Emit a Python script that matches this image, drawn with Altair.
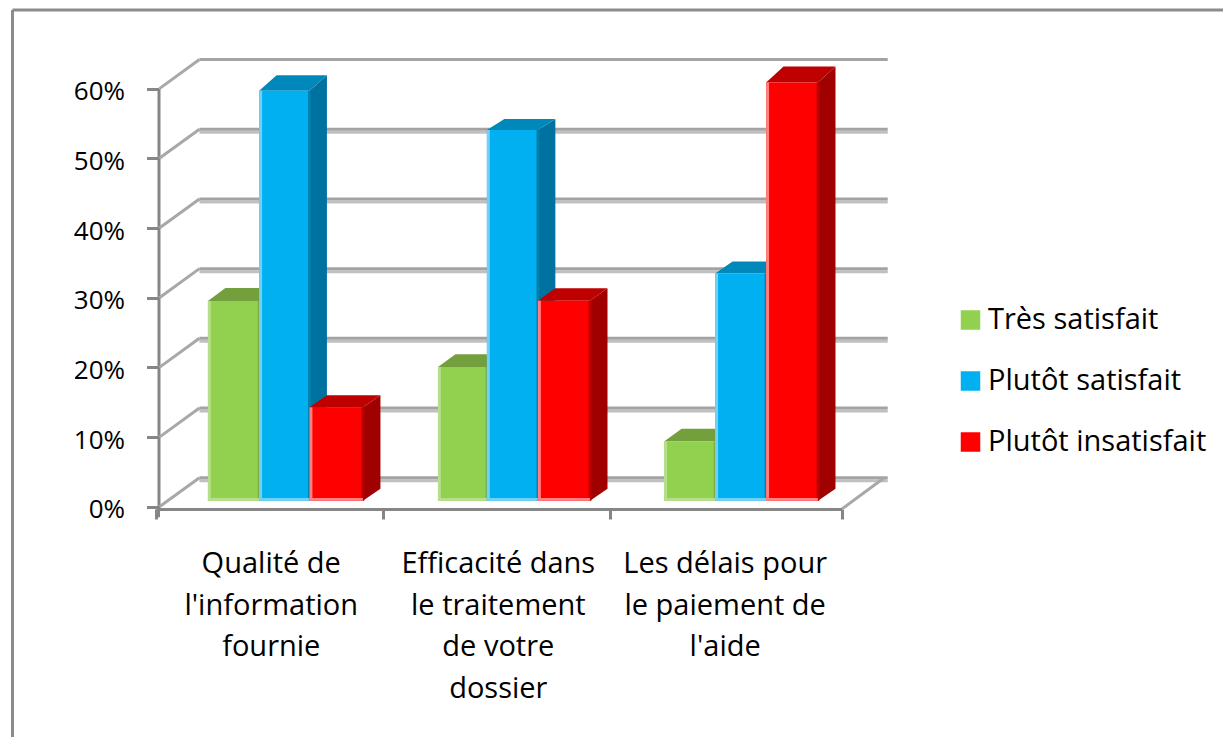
import altair as alt
import pandas as pd

CATEGORIES = ["Qualité de\nl'information\nfournie",
              "Efficacité dans\nle traitement\nde votre\ndossier",
              "Les délais pour\nle paiement de\nl'aide"]
LABEL_CENTERS = [0.504, 1.497, 2.489]
SERIES = ["Très satisfait", "Plutôt satisfait", "Plutôt insatisfait"]
VALUES = [[28.65, 19.2, 8.5], [58.8, 53.2, 32.6], [13.4, 28.7, 60.0]]
TOP_DEPTH = [[1.87, 1.82, 1.82], [2.25, 1.58, 1.72], [1.72, 1.79, 2.30]]
EDGES = [[0.227, 0.451, 0.671, 0.905],
         [1.233, 1.447, 1.670, 1.898],
         [2.222, 2.445, 2.668, 2.895]]
FRONT = ["#92D050", "#00B0F0", "#FF0000"]
LIGHT = ["#B7DF8A", "#73D0F5", "#FF8080"]
TOP = ["#739F3D", "#0088BA", "#BE0000"]
SIDE = ["#6E9A3A", "#00729F", "#A00000"]
STRIP = ["#7FB045", "#0080AD", "#B80000"]
TICKS = [0, 10, 20, 30, 40, 50, 60]
X_TICKS = [0, 0.992, 1.985, 3]

W, H = 1215, 729
FONT = "Open Sans"
FS_AXIS = 26
FS = 29
BAR_LIFT = 0.875
BASE_DEPTH = 1.72
DX = 0.0765
BACK_X0, BACK_X1, BACK_LIFT = 0.19, 3.2, 4.17

AX = "#868686"
xs = alt.Scale(domain=[0, 3], range=[148, 834], nice=False, zero=False)
ys = alt.Scale(domain=[0, 60], range=[498.8, 80.6], nice=False, zero=False)
x_axis = alt.Axis(values=X_TICKS, labels=False, grid=False, offset=-(H - 501),
                  domainColor=AX, domainWidth=3, tickColor=AX, tickWidth=3, tickSize=10)
y_axis = alt.Axis(values=TICKS, grid=False, offset=-150.5, labelExpr="datum.value + '%'",
                  domainColor=AX, domainWidth=3, tickColor=AX, tickWidth=3, tickSize=12,
                  labelFont=FONT, labelFontSize=FS_AXIS, labelColor="#000000", labelPadding=22,
                  labelOffset=3)


def X(f="x"):
    return alt.X(f"{f}:Q", scale=xs, title=None, axis=x_axis)


def Y(f="y"):
    return alt.Y(f"{f}:Q", scale=ys, title=None, axis=y_axis)


layers = []

# back wall gridlines
dark = pd.DataFrame([{"x": x, "y": v + BACK_LIFT, "g": v} for v in TICKS for x in (BACK_X0, BACK_X1)])
light = pd.DataFrame([{"x": x, "y": v + BACK_LIFT - 0.43, "g": v} for v in TICKS[:-1] for x in (BACK_X0, BACK_X1)])
layers.append(alt.Chart(light).mark_line(color="#C0C0C0", strokeWidth=3)
              .encode(x=X(), y=Y(), detail="g:N"))
layers.append(alt.Chart(dark).mark_line(color="#A3A3A3", strokeWidth=3)
              .encode(x=X(), y=Y(), detail="g:N"))

# side wall diagonals and floor
diag = []
for v in TICKS:
    diag += [{"x": 0.015, "y": v, "g": v}, {"x": BACK_X0, "y": v + BACK_LIFT, "g": v}]
diag += [{"x": 3.0, "y": -0.3, "g": "floor"}, {"x": BACK_X1 - 0.015, "y": BACK_LIFT, "g": "floor"}]
layers.append(alt.Chart(pd.DataFrame(diag)).mark_line(color="#A8A8A8", strokeWidth=3)
              .encode(x=X(), y=Y(), detail="g:N"))

# y axis line running down to the x axis
layers.append(alt.Chart(pd.DataFrame({"a": [0.0], "b": [-1.5]})).mark_rule(color=AX, strokeWidth=3)
              .encode(x=alt.value(150.5), y=Y("a"), y2="b:Q"))

legend = alt.Legend(title=None, orient="none", legendX=948, legendY=297,
                    symbolType="square", symbolSize=380, symbolStrokeWidth=0, symbolOpacity=1,
                    labelFont=FONT, labelFontSize=FS, labelColor="#000000", labelOffset=3,
                    clipHeight=30, rowPadding=31, labelLimit=300)
color = alt.Color("s:N", scale=alt.Scale(domain=SERIES, range=FRONT), legend=legend,
                  sort=SERIES)

# bars: side, top and front of every bar, series by series
for s, name in enumerate(SERIES):
    side, top, strip, front, left, bottom = [], [], [], [], [], []
    for g in range(3):
        x0, x1 = EDGES[g][s], EDGES[g][s + 1]
        v = VALUES[s][g] + BAR_LIFT
        b = BAR_LIFT
        d = TOP_DEPTH[s][g]
        side += [{"x": x1, "y": v, "y2": b, "g": g},
                 {"x": x1 + DX, "y": v + d, "y2": b + BASE_DEPTH, "g": g}]
        top += [{"y": v, "x": x0, "x2": x1, "g": g},
                {"y": v + d, "x": x0 + DX, "x2": x1 + DX, "g": g}]
        strip.append({"x": x1 - 0.006, "x2": x1 + 0.006, "y": v, "y2": b})
        front.append({"x": x0, "x2": x1, "y": v, "y2": b, "s": name})
        left.append({"x": x0, "x2": x0 + 0.013, "y": v, "y2": b})
        bottom.append({"x": x0, "x2": x1, "y": b + 0.4, "y2": b})
    layers.append(alt.Chart(pd.DataFrame(side)).mark_area(color=SIDE[s], opacity=1)
                  .encode(x=X(), y=Y(), y2="y2:Q", detail="g:N"))
    layers.append(alt.Chart(pd.DataFrame(top)).mark_area(color=TOP[s], opacity=1, orient="horizontal")
                  .encode(y=Y(), x=X(), x2="x2:Q", detail="g:N"))
    layers.append(alt.Chart(pd.DataFrame(front)).mark_rect(opacity=1)
                  .encode(x=X(), x2="x2:Q", y=Y(), y2="y2:Q", color=color))
    layers.append(alt.Chart(pd.DataFrame(strip)).mark_rect(color=STRIP[s], opacity=1)
                  .encode(x=X(), x2="x2:Q", y=Y(), y2="y2:Q"))
    layers.append(alt.Chart(pd.DataFrame(left)).mark_rect(color=LIGHT[s], opacity=1)
                  .encode(x=X(), x2="x2:Q", y=Y(), y2="y2:Q"))
    layers.append(alt.Chart(pd.DataFrame(bottom)).mark_rect(color=LIGHT[s], opacity=1)
                  .encode(x=X(), x2="x2:Q", y=Y(), y2="y2:Q"))

# category labels
cat_df = pd.DataFrame({"x": LABEL_CENTERS, "t": CATEGORIES})
layers.append(alt.Chart(cat_df).mark_text(font=FONT, fontSize=FS, color="#000000", align="center",
                                          baseline="top", lineBreak="\n", lineHeight=41.5)
              .encode(x=X(), y=alt.value(542), text="t:N"))

# outer frame
layers.append(alt.Chart(pd.DataFrame({"a": [0]})).mark_rule(color="#8C8C8C", strokeWidth=3)
              .encode(x=alt.value(4.5), y=alt.value(2), y2=alt.value(H)))
layers.append(alt.Chart(pd.DataFrame({"a": [0]})).mark_rule(color="#8C8C8C", strokeWidth=3)
              .encode(x=alt.value(4.5), x2=alt.value(W), y=alt.value(2)))

chart = alt.layer(*layers).properties(
    width=W, height=H, padding=0, autosize=alt.AutoSizeParams(type="none"),
    background="#FFFFFF",
).configure_view(stroke=None)

chart.save("out.html", embed_options={"renderer": "svg", "actions": False})
